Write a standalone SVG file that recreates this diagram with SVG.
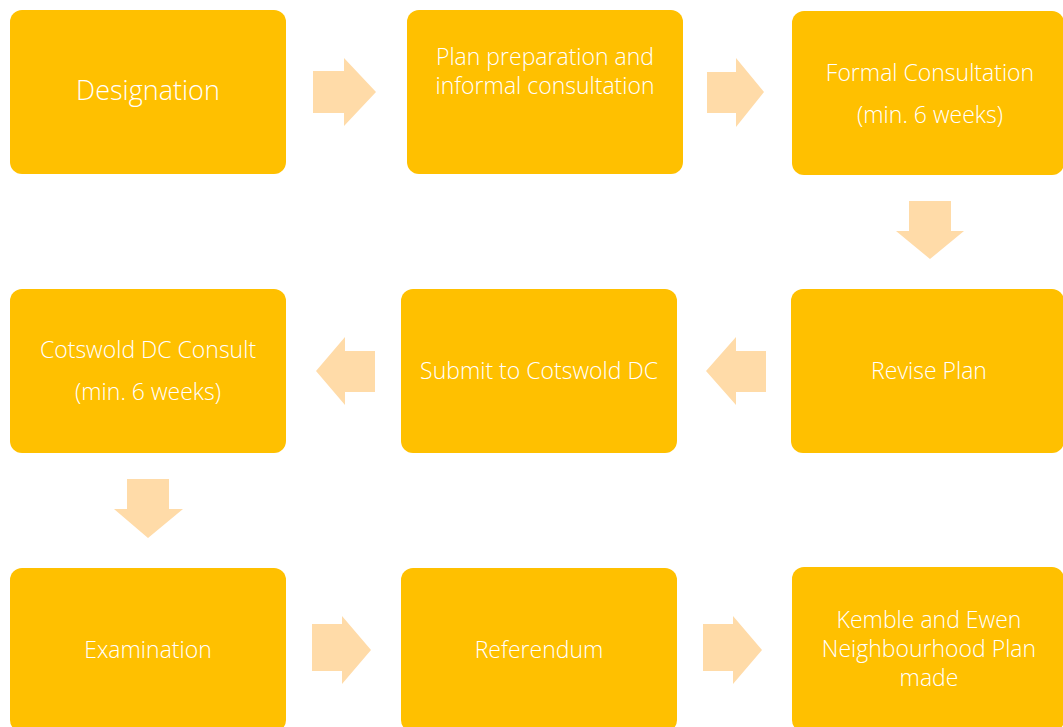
<svg xmlns="http://www.w3.org/2000/svg" width="1063" height="727" viewBox="0 0 1063 727">
<style>
.box{fill:#FFC000;}
.arr{fill:#FFDBA8;}
text{font-family:"Open Sans","Liberation Sans",sans-serif;font-size:23px;font-weight:300;fill:#FFFFFF;text-anchor:middle;}
</style>
<rect width="1063" height="727" fill="#FFFFFF"/>
<g id="connectors">
<polygon class="arr" points="313,71 344,71 344,58 376,92 344,126 344,113 313,113"/>
<polygon class="arr" points="707,72 736,72 736,58 764,92 736,127 736,113 707,113"/>
<polygon class="arr" points="909,201 951,201 951,231 964,231 930,259 896,231 909,231"/>
<polygon class="arr" points="766,351 736,351 736,337 706,371 736,405 736,392 766,392"/>
<polygon class="arr" points="375,351 345,351 345,337 316,371 345,405 345,392 375,392"/>
<polygon class="arr" points="127,479 169,479 169,509 183,509 148,538 114,509 127,509"/>
<polygon class="arr" points="312,624 342,624 342,616 371,650 342,684 342,671 312,671"/>
<polygon class="arr" points="703,624 733,624 733,616 762,650 733,684 733,671 703,671"/>
</g>
<g id="designation">
<rect class="box" x="10" y="10" width="276" height="164" rx="12"/>
<text x="148" y="100" style="font-size:27px">Designation</text>
</g>
<g id="plan-preparation">
<rect class="box" x="407" y="10" width="276" height="164" rx="12"/>
<text x="545" y="65">Plan preparation and</text>
<text x="545" y="94">informal consultation</text>
</g>
<g id="formal-consultation">
<rect class="box" x="792" y="11" width="272" height="164" rx="12"/>
<text x="930" y="81">Formal Consultation</text>
<text x="930" y="123">(min. 6 weeks)</text>
</g>
<g id="revise-plan">
<rect class="box" x="791" y="289" width="273" height="164" rx="12"/>
<text x="929" y="379">Revise Plan</text>
</g>
<g id="submit">
<rect class="box" x="401" y="289" width="276" height="164" rx="12"/>
<text x="539" y="379">Submit to Cotswold DC</text>
</g>
<g id="cotswold-consult">
<rect class="box" x="10" y="289" width="276" height="164" rx="12"/>
<text x="148" y="358">Cotswold DC Consult</text>
<text x="148" y="400">(min. 6 weeks)</text>
</g>
<g id="examination">
<rect class="box" x="10" y="568" width="276" height="164" rx="12"/>
<text x="148" y="658">Examination</text>
</g>
<g id="referendum">
<rect class="box" x="401" y="568" width="276" height="164" rx="12"/>
<text x="539" y="658">Referendum</text>
</g>
<g id="plan-made">
<rect class="box" x="792" y="567" width="272" height="165" rx="12"/>
<text x="929" y="628">Kemble and Ewen</text>
<text x="929" y="657">Neighbourhood Plan</text>
<text x="929" y="686">made</text>
</g>
</svg>
